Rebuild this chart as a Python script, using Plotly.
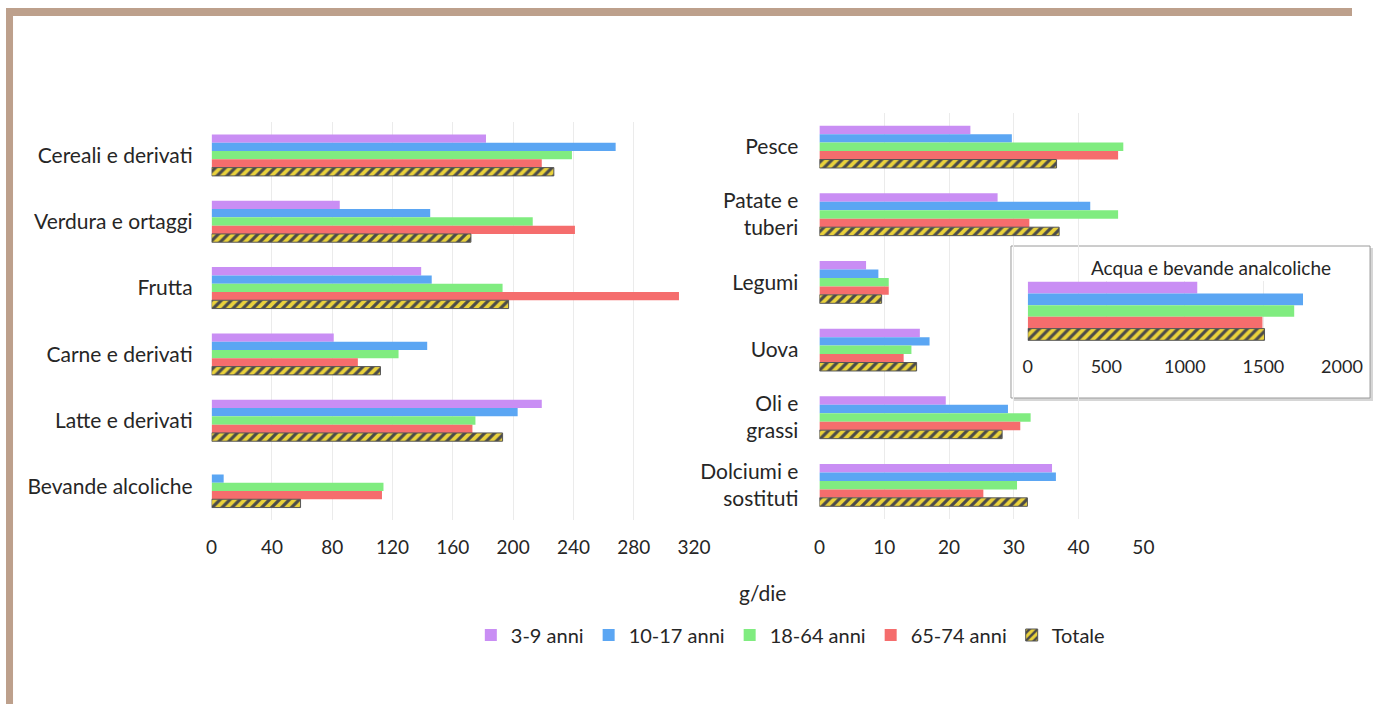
import plotly.graph_objects as go

W, H = 1373, 704

# ---------------- data ----------------
series_names = ["3-9 anni", "10-17 anni", "18-64 anni", "65-74 anni", "Totale"]

left_categories = ["Cereali e derivati", "Verdura e ortaggi", "Frutta",
                   "Carne e derivati", "Latte e derivati", "Bevande alcoliche"]
left_3_9 = [182, 85, 139, 81, 219, 0]
left_10_17 = [268, 145, 146, 143, 203, 8]
left_18_64 = [239, 213, 193, 124, 175, 114]
left_65_74 = [219, 241, 310, 97, 173, 113]
left_totale = [227, 172, 197, 112, 193, 59]

mid_categories = ["Pesce", "Patate e<br>tuberi", "Legumi", "Uova",
                  "Oli e<br>grassi", "Dolciumi e<br>sostituti"]
mid_3_9 = [23.3, 27.5, 7.2, 15.5, 19.5, 35.9]
mid_10_17 = [29.7, 41.8, 9.1, 17.0, 29.1, 36.5]
mid_18_64 = [46.9, 46.1, 10.7, 14.2, 32.6, 30.5]
mid_65_74 = [46.1, 32.4, 10.7, 13.0, 31.0, 25.3]
mid_totale = [36.6, 37.0, 9.6, 15.0, 28.2, 32.1]

inset_category = ["Acqua e bevande analcoliche"]
inset_values = [1079, 1752, 1696, 1494, 1507]

left_ticks = [0, 40, 80, 120, 160, 200, 240, 280, 320]
mid_ticks = [0, 10, 20, 30, 40, 50]
inset_ticks = [0, 500, 1000, 1500, 2000]

# ---------------- style ----------------
colors = ["#C98EF4", "#5BA6F3", "#80EC80", "#F56D6D", "#EAD23C"]
FONT = "Lato"
TXT = "#262626"

# the page shows the figure 1342 px wide starting 8 px from the left edge
X0, WE = 8, 1342


def px_x(p):
    return max(0.0, (p - X0) / WE)


def px_y(p):
    return 1 - p / H


def marker_for(i):
    if i == 4:
        return dict(color=colors[4],
                    line=dict(color="#555555", width=1),
                    pattern=dict(shape="/", fgcolor="#4a4a4a", bgcolor=colors[4],
                                 size=7, solidity=0.45, fillmode="replace"))
    return dict(color=colors[i], line=dict(width=0))


fig = go.Figure()

left_series = [left_3_9, left_10_17, left_18_64, left_65_74, left_totale]
mid_series = [mid_3_9, mid_10_17, mid_18_64, mid_65_74, mid_totale]

for i, name in enumerate(series_names):
    fig.add_trace(go.Bar(y=left_categories, x=left_series[i], orientation="h",
                         name=name, marker=marker_for(i), xaxis="x", yaxis="y",
                         legendgroup=name, showlegend=True))
for i, name in enumerate(series_names):
    fig.add_trace(go.Bar(y=mid_categories, x=mid_series[i], orientation="h",
                         name=name, marker=marker_for(i), xaxis="x2", yaxis="y2",
                         legendgroup=name, showlegend=False))
for i, name in enumerate(series_names):
    fig.add_trace(go.Bar(y=inset_category, x=[inset_values[i]], orientation="h",
                         name=name, marker=marker_for(i), xaxis="x3", yaxis="y3",
                         legendgroup=name, showlegend=False))

numfont = dict(family=FONT, size=19, color=TXT)
catfont = dict(family=FONT, size=21, color=TXT)
grid = "#EBEBEB"

ix0, ix1 = px_x(1026.7), px_x(1340)

fig.update_layout(
    width=W, height=H,
    margin=dict(l=0, r=0, t=0, b=0),
    paper_bgcolor="white", plot_bgcolor="rgba(0,0,0,0)",
    barmode="group", bargap=0.375, bargroupgap=0,
    font=dict(family=FONT, color=TXT),
    xaxis=dict(domain=[px_x(213), px_x(694)], range=[0, 320], tickvals=left_ticks,
               showgrid=True, gridcolor=grid, zeroline=False, showline=False,
               tickfont=numfont, anchor="y", ticklabelstandoff=14, fixedrange=True),
    yaxis=dict(domain=[px_y(520), px_y(122)], autorange="reversed", anchor="x",
               tickfont=catfont, showgrid=False, ticklabelstandoff=18, fixedrange=True),
    xaxis2=dict(domain=[px_x(819), px_x(1142)], range=[0, 50], tickvals=mid_ticks,
                showgrid=True, gridcolor=grid, zeroline=False, showline=False,
                tickfont=numfont, anchor="y2", ticklabelstandoff=15, fixedrange=True),
    yaxis2=dict(domain=[px_y(519), px_y(113)], autorange="reversed", anchor="x2",
                tickfont=catfont, showgrid=False, ticklabelstandoff=20, fixedrange=True),
    xaxis3=dict(domain=[ix0, ix1], range=[0, 2000], tickvals=inset_ticks,
                showgrid=True, gridcolor=grid, zeroline=False, showline=False,
                tickfont=dict(family=FONT, size=18, color=TXT), anchor="y3",
                ticklabelstandoff=13, fixedrange=True),
    yaxis3=dict(domain=[px_y(341), px_y(281)], range=[0.32, -0.32], anchor="x3",
                showticklabels=False, showgrid=False, fixedrange=True),
    legend=dict(orientation="h", x=px_x(790), xanchor="center", y=px_y(635), yanchor="middle",
                font=dict(family=FONT, size=20, color=TXT), itemwidth=30,
                traceorder="normal", bgcolor="rgba(0,0,0,0)"),
)


def inset_fx(p):
    return (px_x(p) - ix0) / (ix1 - ix0)


shapes = [
    # frame
    dict(type="rect", xref="paper", yref="paper", x0=0, x1=px_x(15), y0=0, y1=px_y(8),
         fillcolor="#BDA08C", line=dict(width=0), layer="above"),
    dict(type="rect", xref="paper", yref="paper", x0=0, x1=1, y0=px_y(16), y1=px_y(8),
         fillcolor="#BDA08C", line=dict(width=0), layer="above"),
    # inset box shadow + box
    dict(type="rect", xref="x3 domain", yref="y3 domain",
         x0=inset_fx(1012), x1=inset_fx(1371),
         y0=(341 - 401) / 60, y1=(341 - 248) / 60,
         fillcolor="#D6D6D6", line=dict(width=0), layer="below"),
    dict(type="rect", xref="x3 domain", yref="y3 domain",
         x0=inset_fx(1010), x1=inset_fx(1368),
         y0=(341 - 398) / 60, y1=(341 - 246) / 60,
         fillcolor="white", line=dict(color="#9A9A9A", width=1), layer="below"),
]
fig.update_layout(shapes=shapes)

fig.add_annotation(text="g/die", xref="paper", yref="paper", x=px_x(762), y=px_y(592),
                   xanchor="center", yanchor="middle",
                   showarrow=False, font=dict(family=FONT, size=21, color=TXT))
fig.add_annotation(text=inset_category[0], xref="paper", yref="paper", x=px_x(1209),
                   y=px_y(268), xanchor="center", yanchor="middle",
                   showarrow=False, font=dict(family=FONT, size=19, color=TXT))

fig.write_html("out.html", config={"displayModeBar": False},
               post_script="document.body.style.margin='0';document.body.style.overflow='hidden';")
